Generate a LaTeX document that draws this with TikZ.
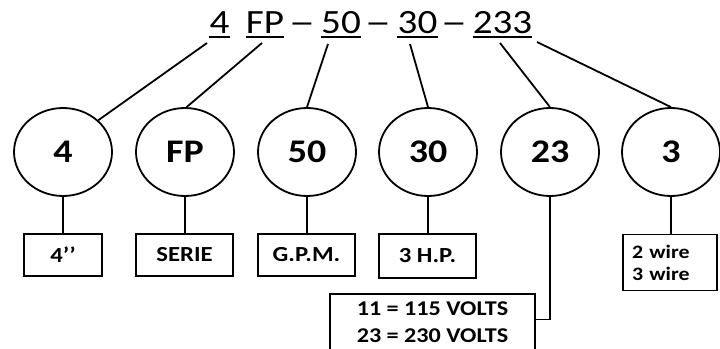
\documentclass[tikz,border=0pt]{standalone}
\usepackage{fontspec}
\usepackage{graphicx}
\setmainfont{Carlito}[FakeStretch=1.15]
\usetikzlibrary{shapes.geometric}
\newcommand{\longdash}{\scalebox{1.35}[1]{–}}
\begin{document}
\begin{tikzpicture}[x=1pt,y=-1pt,
  ln/.style={line width=1.8pt},
  uline/.style={line width=2.2pt},
  circ/.style={ellipse, draw, line width=1.8pt, minimum width=98pt, minimum height=88pt, inner sep=0pt, font=\fontsize{33}{33}\selectfont\bfseries},
  box/.style={draw, line width=1.6pt, inner sep=0pt, minimum height=42pt, font=\fontsize{21.5}{21.5}\selectfont\bfseries},
  toptxt/.style={inner sep=0pt, anchor=base, font=\fontsize{34}{34}\selectfont}]
\useasboundingbox (0,0) rectangle (720,348);
% top code
\node[toptxt] (t4) at (219.5,33) {4};
\node[toptxt] (tFP) at (265,33) {FP};
\node[toptxt] (d1) at (302,33) {\longdash};
\node[toptxt] (t50) at (341,33) {50};
\node[toptxt] (d2) at (378,33) {\longdash};
\node[toptxt] (t30) at (417.5,33) {30};
\node[toptxt] (d3) at (454,33) {\longdash};
\node[toptxt] (t233) at (502.5,33) {233};
\foreach \n in {t4,tFP,t50,t30,t233}
  \draw[uline] ([yshift=-4pt]\n.base west) -- ([yshift=-4pt]\n.base east);
% connector start points
\coordinate (u4) at (207,43);
\coordinate (uFP) at (262,43);
\coordinate (u50) at (328,44);
\coordinate (u30) at (410,44);
\coordinate (u23) at (500,43);
\coordinate (u3) at (537,42);
% circles
\node[circ] (c4) at (63,152) {4};
\node[circ] (cFP) at (185,152) {FP};
\node[circ] (c50) at (307,152) {50};
\node[circ] (c30) at (428,152) {30};
\node[circ] (c23) at (550,152) {23};
\node[circ] (c3) at (671,152) {3};
\draw[ln] (u4) -- (c4.42);
\draw[ln] (uFP) -- (cFP.88);
\draw[ln] (u50) -- (c50.north);
\draw[ln] (u30) -- (c30.north);
\draw[ln] (u23) -- (c23.north);
\draw[ln] (u3) -- (c3.north);
% boxes
\node[box, minimum width=78pt] (b4) at (63,255) {4’’};
\node[box, minimum width=97pt] (bS) at (184.5,255) {SERIE};
\node[box, minimum width=97pt] (bG) at (306.5,255) {G.P.M.};
\node[box, minimum width=97pt, minimum height=44pt] (bH) at (427.5,256) {3 H.P.};
\node[box, minimum width=94pt, minimum height=56pt, align=left, text width=76pt, font=\fontsize{19}{22}\selectfont\bfseries] (bW) at (670,262.5) {2 wire\\3 wire};
\node[box, minimum width=205pt, minimum height=57pt, align=center, font=\fontsize{21}{27}\selectfont\bfseries] (bV) at (432.5,322.5) {11 = 115 VOLTS\\23 = 230 VOLTS};
% vertical connectors
\draw[ln] (c4.south) -- (c4.south |- b4.north);
\draw[ln] (cFP.south) -- (cFP.south |- bS.north);
\draw[ln] (c50.south) -- (c50.south |- bG.north);
\draw[ln] (c30.south) -- (c30.south |- bH.north);
\draw[ln] (c3.south) -- (c3.south |- bW.north);
\draw[ln] (c23.south) |- ([yshift=3pt]bV.east);
\end{tikzpicture}
\end{document}
